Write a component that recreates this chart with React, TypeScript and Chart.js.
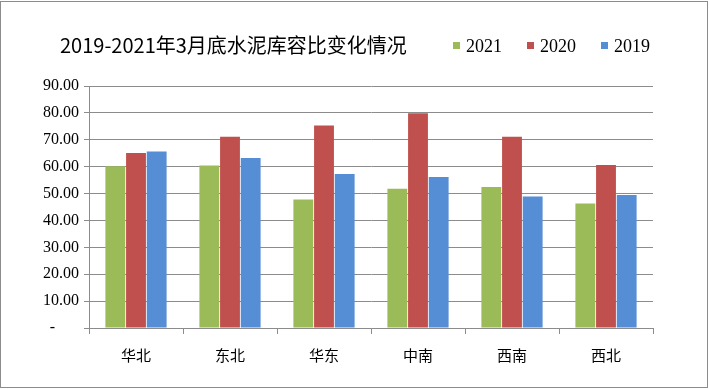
import React, { useEffect, useRef } from "react";
import { Chart, registerables } from "chart.js";

Chart.register(...registerables);

const TITLE = "2019-2021年3月底水泥库容比变化情况";
const categories = ["华北", "东北", "华东", "中南", "西南", "西北"];
const seriesNames = ["2021", "2020", "2019"];
const values2021 = [60.2, 60.4, 47.8, 51.8, 52.4, 46.3];
const values2020 = [65.1, 71.1, 75.3, 79.9, 71.1, 60.6];
const values2019 = [65.6, 63.2, 57.3, 56.2, 48.9, 49.5];
const colors = ["#9BBB59", "#C0504D", "#558ED5"];
const yTicks = [0, 10, 20, 30, 40, 50, 60, 70, 80, 90];

const overlayPlugin = {
  id: "overlay",
  afterDraw(chart: any) {
    const ctx = chart.ctx as CanvasRenderingContext2D;
    ctx.save();
    ctx.strokeStyle = "#8C8C8C";
    ctx.lineWidth = 1;
    ctx.strokeRect(0.5, 1.5, chart.width - 2, chart.height - 3);
    ctx.fillStyle = "#000";
    ctx.font = "20px 'Noto Sans CJK SC', sans-serif";
    ctx.textBaseline = "middle";
    ctx.textAlign = "left";
    ctx.fillText(TITLE, 60, 45);
    const xs = [453, 527, 601];
    ctx.font = "18px 'Liberation Serif', serif";
    seriesNames.forEach((n, i) => {
      ctx.fillStyle = colors[i];
      ctx.fillRect(xs[i], 42, 7, 7);
      ctx.fillStyle = "#000";
      ctx.fillText(n, xs[i] + 13, 47);
    });
    ctx.restore();
  },
};

export default function App() {
  const ref = useRef<HTMLCanvasElement>(null);
  useEffect(() => {
    const chart = new Chart(ref.current!, {
      type: "bar",
      data: {
        labels: categories,
        datasets: [values2021, values2020, values2019].map((d, i) => ({
          label: seriesNames[i],
          data: d,
          backgroundColor: colors[i],
          borderWidth: 0,
          barPercentage: 0.96,
          categoryPercentage: 0.66,
        })),
      },
      options: {
        responsive: false,
        animation: false,
        layout: { padding: { top: 86, right: 56, left: 0, bottom: 0 } },
        plugins: {
          legend: { display: false },
          title: { display: false },
          tooltip: { enabled: false },
        },
        scales: {
          x: {
            grid: {
              display: true,
              drawOnChartArea: false,
              drawTicks: true,
              tickLength: 6,
              color: "#8C8C8C",
              offset: true,
            },
            border: { color: "#8C8C8C" },
            ticks: {
              color: "#000",
              font: { family: "'Noto Sans CJK SC', sans-serif", size: 15 },
              padding: 12,
            },
            afterFit: (s: any) => {
              s.height = 61;
            },
          },
          y: {
            min: 0,
            max: 90,
            afterBuildTicks: (s: any) => {
              s.ticks = yTicks.map((v) => ({ value: v }));
            },
            grid: {
              color: "#8C8C8C",
              tickLength: 5,
              drawTicks: true,
            },
            border: { color: "#8C8C8C" },
            ticks: {
              color: "#000",
              font: { family: "'Liberation Serif', serif", size: 16 },
              padding: 5,
              callback: (v: any) => (Number(v) === 0 ? "-      " : Number(v).toFixed(2)),
            },
            afterFit: (s: any) => {
              s.width = 89;
            },
          },
        },
      },
      plugins: [overlayPlugin],
    });
    return () => chart.destroy();
  }, []);
  return (
    <div style={{ position: "absolute", left: 0, top: 0, width: 709, height: 389, background: "#fff" }}>
      <canvas ref={ref} width={709} height={389} style={{ display: "block" }} />
    </div>
  );
}
